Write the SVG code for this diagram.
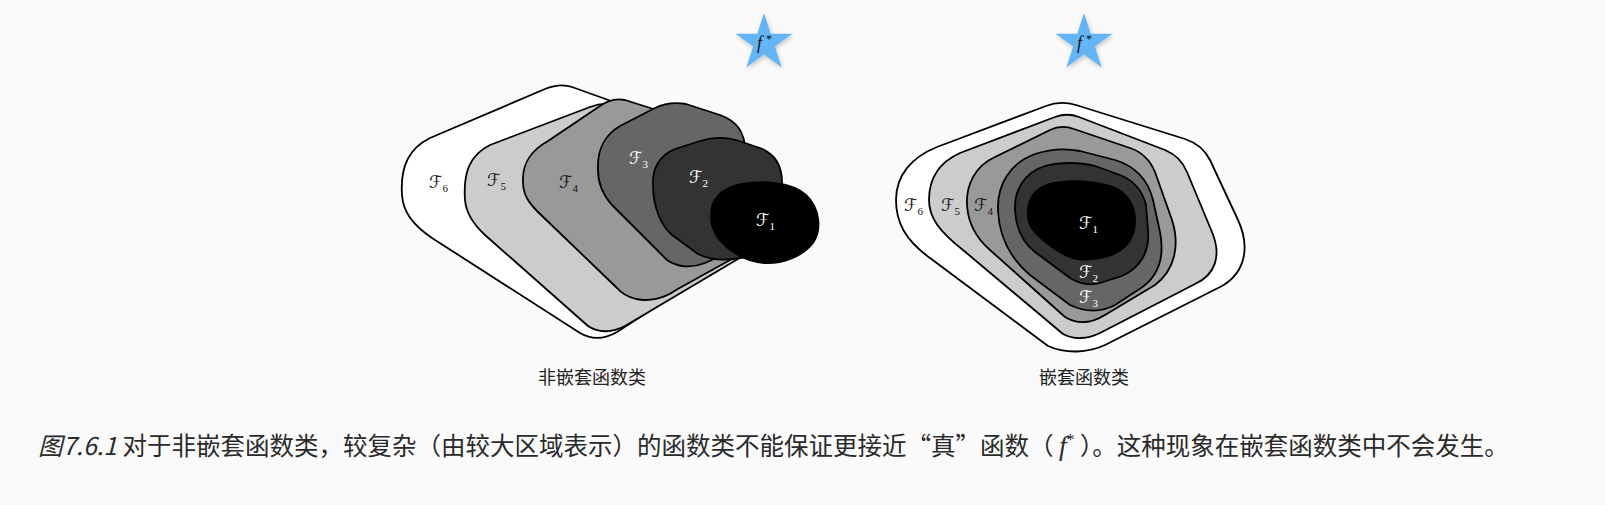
<svg xmlns="http://www.w3.org/2000/svg" width="1605" height="505" viewBox="0 0 1605 505">
<style>
.sh{stroke:#000;stroke-width:1.8;stroke-linejoin:round}
.c6{fill:#fff}.c5{fill:#ccc}.c4{fill:#999}.c3{fill:#666}.c2{fill:#333}.c1{fill:#000}
.lb{font-family:"DejaVu Serif","DejaVu Sans",serif;font-size:17px}
.lb tspan{font-family:"Liberation Serif",serif;font-size:11px}
.dk{fill:#111}.wt{fill:#fff}
.star{fill:#64b5f6}
.fs{font-family:"Liberation Serif","DejaVu Serif",serif;font-style:italic;font-size:18px;fill:#111}
.ast{font-family:"Liberation Serif","DejaVu Serif",serif;font-size:12px;fill:#111}
.sub{font-family:"Noto Sans CJK SC","Noto Sans",sans-serif;font-size:18px;fill:#222}
.cap{font-family:"Noto Sans CJK SC","Noto Sans",sans-serif;font-size:24.5px;fill:#2a2a2a}
</style>
<defs>
<filter id="shadow" x="-30%" y="-30%" width="160%" height="160%">
<feDropShadow dx="1" dy="2" stdDeviation="2" flood-color="#000" flood-opacity="0.22"/>
</filter>
<polygon id="starShape" points="0,-30 6.74,-9.27 28.53,-9.27 10.9,3.54 17.63,24.27 0,11.46 -17.63,24.27 -10.9,3.54 -28.53,-9.27 -6.74,-9.27"/>
</defs>
<rect width="1605" height="505" fill="#fafafa"/>

<g id="left-F6">
<path class="sh c6" d="M402,195 C400,165 410,148 430,138 L545,89 C555,85 563,84 572,87 L720,140 C735,146 745,160 745,180 L742,240 C740,250 735,256 725,262 L617,332 C605,339 592,340 580,333 L432,238 C413,225 403,212 402,195 Z"/>
<text class="lb dk" x="429" y="188">ℱ<tspan dy="4">6</tspan></text>
</g>
<g id="left-F5">
<path class="sh c5" d="M465,200 C463,172 470,155 490,145 L590,107 C598,104 606,103 614,105 L730,150 C745,156 752,170 752,185 L752,240 C752,248 748,252 743,256 L625,326 C612,333 598,333 588,326 L485,235 C472,223 466,212 465,200 Z"/>
<text class="lb dk" x="487" y="186">ℱ<tspan dy="4">5</tspan></text>
</g>
<g id="left-F4">
<path class="sh c4" d="M523,182 C522,162 532,150 548,141 L600,106 C608,100 616,98 625,100 L720,130 C735,136 742,148 742,165 L742,245 C742,252 738,256 730,260 L676,290 C665,298 650,302 636,299 C628,297 622,294 617,288 L538,212 C528,202 523,194 523,182 Z"/>
<text class="lb dk" x="559" y="188">ℱ<tspan dy="4">4</tspan></text>
</g>
<g id="left-F3">
<path class="sh c3" d="M598,170 C597,148 605,135 620,126 L655,108 C665,103 675,102 686,104 L720,115 C737,121 745,133 745,150 L745,230 C745,240 740,247 730,252 L705,263 C693,268 678,268 667,260 L612,205 C603,195 598,185 598,170 Z"/>
<text class="lb wt" x="629" y="164">ℱ<tspan dy="4">3</tspan></text>
</g>
<g id="left-F2">
<path class="sh c2" d="M653,185 C652,168 660,155 675,149 L700,141 C712,137 724,137 736,140 L760,148 C775,154 782,165 782,182 L782,235 C782,245 776,250 766,254 L740,258 C725,261 710,260 698,254 L672,235 C660,225 653,205 653,185 Z"/>
<text class="lb wt" x="689" y="183">ℱ<tspan dy="4">2</tspan></text>
</g>
<g id="left-F1">
<path class="sh c1" d="M711,218 C710,198 722,188 742,184 C762,180 792,182 806,195 C820,208 822,230 813,243 C802,257 782,264 764,263 C746,262 728,251 718,238 C714,232 711,225 711,218 Z"/>
<text class="lb wt" x="756" y="226">ℱ<tspan dy="4">1</tspan></text>
</g>

<g id="right-F6">
<path class="sh c6" d="M937,147 L1046,106 C1056,102 1066,102 1076,105 L1185,139 C1197,143 1205,150 1210,160 L1238,220 C1250,246 1246,272 1222,286 L1105,345 C1088,353 1066,354 1048,346 L930,258 C905,240 896,222 896,200 C896,175 912,157 937,147 Z"/>
<text class="lb dk" x="904" y="211">ℱ<tspan dy="4">6</tspan></text>
</g>
<g id="right-F5">
<path class="sh c5" d="M960,153 L1055,117 C1063,114 1071,114 1079,117 L1165,150 C1177,155 1183,162 1187,172 L1212,232 C1222,256 1215,275 1195,284 L1100,333 C1088,339 1074,340 1063,334 L963,250 C940,232 929,218 929,200 C929,178 940,162 960,153 Z"/>
<text class="lb dk" x="941" y="211">ℱ<tspan dy="4">5</tspan></text>
</g>
<g id="right-F4">
<path class="sh c4" d="M967,205 C966,185 975,166 995,157 L1050,130 C1058,126 1066,126 1074,129 L1130,148 C1142,152 1150,160 1155,172 L1172,220 C1180,245 1175,270 1155,285 L1105,315 C1092,323 1078,325 1065,317 L990,250 C975,237 968,222 967,205 Z"/>
<text class="lb dk" x="974" y="211">ℱ<tspan dy="4">4</tspan></text>
</g>
<g id="right-F3">
<path class="sh c3" d="M998,210 C997,185 1010,163 1035,154 C1050,149 1065,148 1080,151 L1115,160 C1135,166 1148,180 1153,200 L1160,232 C1165,258 1158,278 1138,290 L1115,305 C1100,313 1085,312 1070,305 L1030,275 C1010,258 999,235 998,210 Z"/>
<text class="lb wt" x="1079" y="303">ℱ<tspan dy="4">3</tspan></text>
</g>
<g id="right-F2">
<path class="sh c2" d="M1015,210 C1014,190 1025,172 1045,166 C1060,162 1080,162 1095,166 L1120,175 C1135,181 1143,193 1146,205 L1148,230 C1150,252 1140,268 1122,276 L1100,283 C1090,286 1080,284 1070,278 L1035,252 C1022,242 1016,228 1015,210 Z"/>
<text class="lb wt" x="1079" y="278">ℱ<tspan dy="4">2</tspan></text>
</g>
<g id="right-F1">
<path class="c1" d="M1027,215 C1026,198 1035,187 1050,183 C1070,178 1095,180 1113,186 C1128,192 1136,205 1136,220 C1136,240 1125,252 1108,257 C1095,261 1080,262 1070,258 C1055,252 1040,240 1032,230 C1028,225 1027,220 1027,215 Z"/>
<text class="lb wt" x="1079" y="229">ℱ<tspan dy="4">1</tspan></text>
</g>

<g id="star-left" transform="translate(764,43)">
<use href="#starShape" class="star" filter="url(#shadow)"/>
<text class="fs" x="-7" y="6">f</text>
<text class="ast" x="2" y="0">*</text>
</g>
<g id="star-right" transform="translate(1084,43)">
<use href="#starShape" class="star" filter="url(#shadow)"/>
<text class="fs" x="-7" y="6">f</text>
<text class="ast" x="2" y="0">*</text>
</g>

<g id="connectors"/>

<text class="sub" x="592" y="384" text-anchor="middle">非嵌套函数类</text>
<text class="sub" x="1084" y="384" text-anchor="middle">嵌套函数类</text>

<text class="cap" x="38" y="455"><tspan font-style="italic">图7.6.1</tspan> 对于非嵌套函数类，较复杂（由较大区域表示）的函数类不能保证更接近“真”函数（ <tspan font-family="Liberation Serif,serif" font-style="italic" font-size="27">f</tspan><tspan font-family="Liberation Serif,serif" font-size="16" dy="-10">*</tspan><tspan dy="10"> ）。这种现象在嵌套函数类中不会发生。</tspan></text>
</svg>
